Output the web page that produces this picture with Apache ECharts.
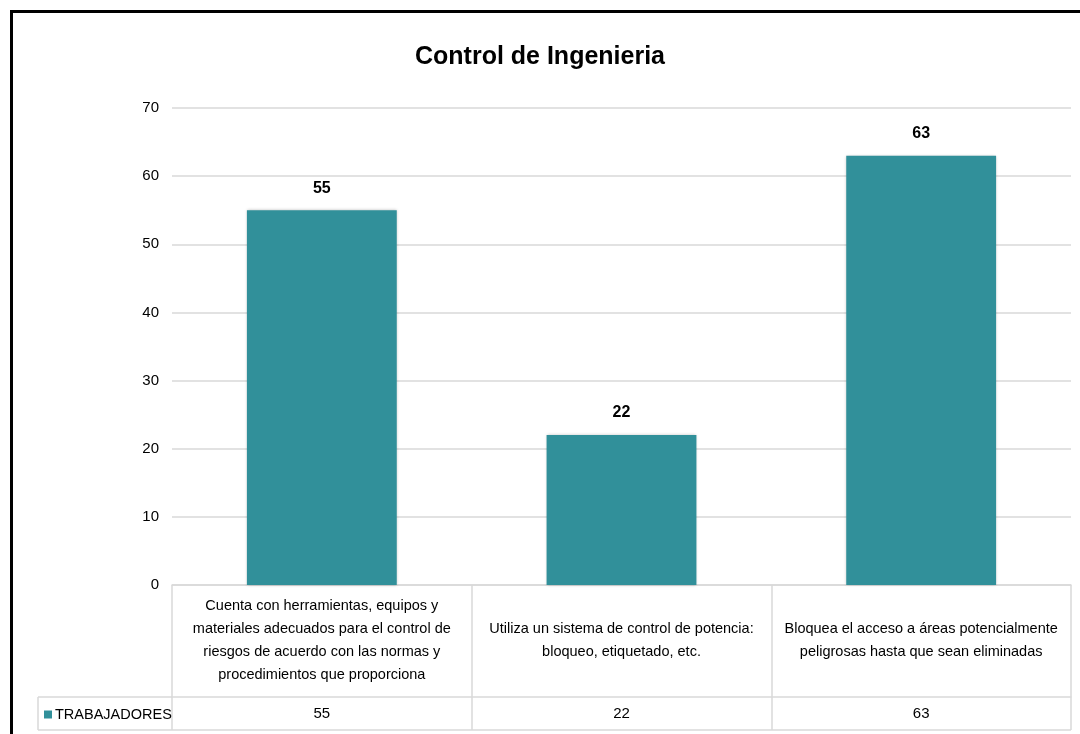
<!DOCTYPE html>
<html>
<head>
<meta charset="utf-8">
<script src="https://cdn.jsdelivr.net/npm/echarts@6/dist/echarts.min.js"></script>
<style>
  html, body { margin: 0; padding: 0; background: #fff; }
  #main { width: 1080px; height: 734px; }
</style>
</head>
<body>
<div id="main"></div>
<script>
const title = "Control de Ingenieria";
const seriesName = "TRABAJADORES";
const categories = [
  "Cuenta con herramientas, equipos y\nmateriales adecuados para el control de\nriesgos de acuerdo con las normas y\nprocedimientos que proporciona",
  "Utiliza un sistema de control de potencia:\nbloqueo, etiquetado, etc.",
  "Bloquea el acceso a áreas potencialmente\npeligrosas hasta que sean eliminadas"
];
const values = [55, 22, 63];
const yTicks = { min: 0, max: 70, interval: 10 };

// no narrow face installed, so sizes are picked to match the text widths
const font = "'Liberation Sans Narrow', 'Arial Narrow', 'Liberation Sans', Arial, sans-serif";
const gridColor = "#d9d9d9";
const barColor = "#31909a";

var chartDom = document.getElementById("main");
let chart = echarts.init(chartDom);
let option = {
  backgroundColor: "#fff",
  animation: false,
  textStyle: { fontFamily: font },
  title: {
    text: title,
    left: "center",
    top: 40,
    textStyle: { fontFamily: font, fontSize: 25, fontWeight: "bold", color: "#000" }
  },
  legend: {
    data: [seriesName],
    left: 39,
    top: 702,
    icon: "rect",
    itemWidth: 8,
    itemHeight: 8,
    textStyle: { fontFamily: font, fontSize: 14.5, color: "#000", padding: [0, 0, 0, -2] }
  },
  grid: { left: 172, right: 9, top: 108, bottom: 149 },
  xAxis: [
    {
      type: "category",
      data: categories,
      axisLine: { lineStyle: { color: gridColor, width: 1.5 } },
      axisTick: { show: true, length: 145, lineStyle: { color: gridColor, width: 1.5 } },
      axisLabel: {
        interval: 0,
        margin: 55,
        verticalAlign: "middle",
        lineHeight: 23,
        fontSize: 14.5,
        color: "#000",
        fontFamily: font
      }
    },
    {
      type: "category",
      position: "bottom",
      offset: 112,
      data: values.map(String),
      axisLine: { show: true, lineStyle: { color: gridColor, width: 1.5 } },
      axisTick: { show: false },
      axisLabel: { margin: 17, verticalAlign: "middle", fontSize: 15, color: "#000", fontFamily: font }
    }
  ],
  yAxis: {
    type: "value",
    min: yTicks.min,
    max: yTicks.max,
    interval: yTicks.interval,
    axisLine: { show: false },
    axisTick: { show: false },
    axisLabel: { margin: 13, fontSize: 15, color: "#000", fontFamily: font },
    splitLine: { lineStyle: { color: gridColor, width: 1.5 } }
  },
  series: [
    {
      name: seriesName,
      type: "bar",
      barWidth: "50%",
      data: values,
      itemStyle: {
        color: barColor,
        shadowBlur: 3,
        shadowColor: "rgba(0,0,0,0.25)"
      },
      label: {
        show: true,
        position: "top",
        distance: 14,
        fontSize: 16,
        fontWeight: "bold",
        color: "#000",
        fontFamily: font
      }
    }
  ],
  graphic: [
    // legend cell + bottom line of the data table
    { type: "line", shape: { x1: 38, y1: 697, x2: 172, y2: 697 }, style: { stroke: gridColor, lineWidth: 1.5 } },
    { type: "line", shape: { x1: 38, y1: 730, x2: 1071, y2: 730 }, style: { stroke: gridColor, lineWidth: 1.5 } },
    { type: "line", shape: { x1: 38, y1: 697, x2: 38, y2: 730 }, style: { stroke: gridColor, lineWidth: 1.5 } },
    // outer frame
    { type: "rect", shape: { x: 11.5, y: 11.5, width: 1200, height: 1000 }, style: { fill: "none", stroke: "#000", lineWidth: 3 }, z: 100 }
  ]
};
option && chart.setOption(option);
</script>
</body>
</html>
